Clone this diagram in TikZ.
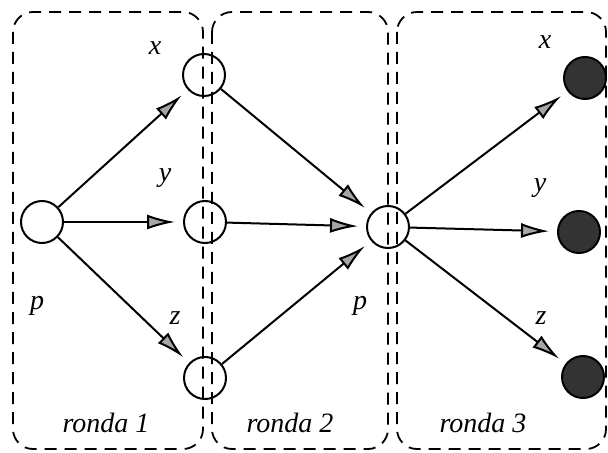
\documentclass[tikz,border=0pt]{standalone}
\usepackage{fontspec}
\setmainfont{Liberation Serif}
\usetikzlibrary{arrows.meta, positioning}
\tikzstyle{arrow} = [-{Latex[length=14pt,width=7.5pt,fill=gray!70]}, shorten >=4pt, line width=1pt]

\begin{document}
\begin{tikzpicture}[
    x=0.5pt, y=-0.5pt,
    state/.style={circle, draw=black, line width=1pt, minimum size=21pt, inner sep=0pt},
    final/.style={state, fill=black!80},
    ronda/.style={draw=black, line width=0.9pt, dash pattern=on 6pt off 4pt, rounded corners=10pt},
    lbl/.style={font=\fontsize{14}{16}\selectfont\itshape}
]
    \useasboundingbox (0,0) rectangle (608,453);

    % Rounds
    \draw[ronda] (13,12) rectangle (203,449);
    \draw[ronda] (212,12) rectangle (388,449);
    \draw[ronda] (397,12) rectangle (606,449);

    % States
    \node[state] (p1) at (42,222) {};
    \node[state] (x1) at (204,75) {};
    \node[state] (y1) at (205,222) {};
    \node[state] (z1) at (205,378) {};
    \node[state] (p2) at (388,227) {};
    \node[final] (x2) at (585,78) {};
    \node[final] (y2) at (579,232) {};
    \node[final] (z2) at (583,377) {};

    % Connections
    \draw[arrow] (p1) -- (x1);
    \draw[arrow] (p1) -- (y1);
    \draw[arrow] (p1) -- (z1);
    \draw[arrow] (x1) -- (p2);
    \draw[arrow] (y1) -- (p2);
    \draw[arrow] (z1) -- (p2);
    \draw[arrow] (p2) -- (x2);
    \draw[arrow] (p2) -- (y2);
    \draw[arrow] (p2) -- (z2);

    % Labels
    \node[lbl] (lx1) at (155,48) {x};
    \node[lbl] (ly1) at (165,178) {y};
    \node[lbl] (lz1) at (175,318) {z};
    \node[lbl] (lp1) at (37,306) {p};
    \node[lbl] (lp2) at (360,306) {p};
    \node[lbl] (lx2) at (545,42) {x};
    \node[lbl] (ly2) at (540,188) {y};
    \node[lbl] (lz2) at (541,318) {z};
    \node[lbl] (r1) at (106,423) {ronda 1};
    \node[lbl] (r2) at (290,423) {ronda 2};
    \node[lbl] (r3) at (483,423) {ronda 3};

\end{tikzpicture}
\end{document}
